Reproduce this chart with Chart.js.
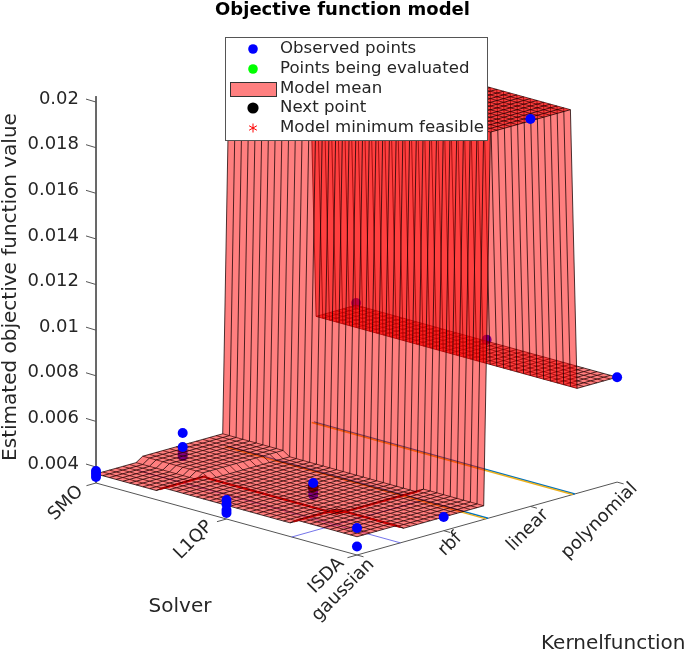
<!DOCTYPE html>
<html><head><meta charset="utf-8">
<style>html,body{margin:0;padding:0;background:#fff;overflow:hidden}canvas{display:block;filter:blur(0.5px)}</style>
<script src="https://cdn.jsdelivr.net/npm/chart.js@4/dist/chart.umd.js"></script>
</head><body><canvas id="c" width="685" height="654"></canvas>
<script>
const titleText = 'Objective function model';
const solverLabels = ['SMO', 'L1QP', 'ISDA'];
const kernelLabels = ['gaussian', 'rbf', 'linear', 'polynomial'];
const zTicks = [0.004, 0.006, 0.008, 0.01, 0.012, 0.014, 0.016, 0.018, 0.02];
const zTickLabels = ['0.004', '0.006', '0.008', '0.01', '0.012', '0.014', '0.016', '0.018', '0.02'];
const legendLabels = ['Observed points', 'Points being evaluated', 'Model mean', 'Next point', 'Model minimum feasible'];
// model mean per solver (rows) and kernel (columns)
const meanSMO  = [0.0037, 0.0039, 0.0202, 0.0079];
const meanL1QP = [0.0039, 0.0037, 0.0202, 0.0079];
const meanISDA = [0.0041, 0.0039, 0.0202, 0.0079];
// observed points hidden by the surface
const hiddenSolver = [0, 0, 1, 1, 0, 1];
const hiddenKernel = [1, 1, 1, 1, 3, 3];
const hiddenValue  = [0.00359, 0.00342, 0.00346, 0.00329, 0.00799, 0.00796];
// observed points in front of it
const obsSolver = [0, 0, 0, 0, 0, 1, 1, 1, 1, 1, 2, 2, 2, 2, 2];
const obsKernel = [0, 0, 0, 1, 1, 0, 0, 0, 0, 1, 0, 0, 1, 3, 2];
const obsValue  = [0.00383, 0.0037, 0.00356, 0.00443, 0.00381, 0.00413, 0.00395, 0.00369, 0.00356, 0.00381, 0.00448, 0.00367, 0.0039, 0.0079, 0.02028];
const nextSolver = [1], nextKernel = [1], nextValue = [0.00364];
const meshNodes = 40;

// view projection (solver index, kernel index, objective value) -> view coordinates
const proj = (u, v, z) => ({
  x: 96 + 130.5 * u + 86.7 * v,
  y: 483 + 36 * u - 24.3 * v - 22810 * (z - 0.0033)
});
const floorZ = 0.0033;
const table = [meanSMO, meanL1QP, meanISDA];
const U = i => i * 2 / (meshNodes - 1), V = j => j * 3 / (meshNodes - 1);
const H = (i, j) => table[Math.round(U(i))][Math.round(V(j))];
const GAP = {x: NaN, y: NaN};
const mid = (a, b) => ({x: (a.x + b.x) / 2, y: (a.y + b.y) / 2});

const datasets = [];
const line = (data, color, w) => datasets.push({data, showLine: true, borderColor: color, borderWidth: w, pointRadius: 0, fill: false, tension: 0});
const poly = (data) => datasets.push({data: data.concat([data[0]]), showLine: true, borderWidth: 0, borderColor: 'rgba(0,0,0,0)', backgroundColor: 'rgba(255,0,0,0.5)', pointRadius: 0, fill: 'shape', tension: 0});
const dots = (data, color, r) => datasets.push({data, showLine: false, backgroundColor: color, borderColor: color, pointRadius: r, borderWidth: 0});

// axes
line([proj(0, 0, 0.02026), proj(0, 0, floorZ)], '#555', 1);
line([proj(0, 0, floorZ), proj(2, 0, floorZ), proj(2, 3, floorZ)], '#555', 1);
zTicks.forEach(t => { const p = proj(0, 0, t); line([p, {x: p.x - 10, y: p.y - 3}], '#555', 1); });
solverLabels.forEach((s, i) => line([proj(i, 0, floorZ), proj(i, -0.11, floorZ)], '#555', 1));
kernelLabels.forEach((s, j) => line([proj(2, j, floorZ), proj(2.05, j, floorZ)], '#555', 1));

// contour lines on the floor
const contourBlue = 'rgba(70,70,225,0.75)';
line([proj(1.5, 0, floorZ), proj(1.5, 1.5, floorZ)], contourBlue, 1);
line([proj(0, 0.5, floorZ), proj(2, 0.5, floorZ)], contourBlue, 1);
[1.5, 2.5].forEach(v => {
  line([proj(0, v + 0.012, floorZ), proj(2, v + 0.012, floorZ)], '#0072BD', 1.4);
  line([proj(0, v - 0.012, floorZ), proj(2, v - 0.012, floorZ)], '#EDB120', 1.4);
});

// points under the surface
dots(hiddenSolver.map((s, i) => proj(s, hiddenKernel[i], hiddenValue[i])), '#0000FF', 5);
dots(nextSolver.map((s, i) => proj(s, nextKernel[i], nextValue[i])), '#000', 5.5);

// surface, far strips first
const edge = 'rgba(20,0,0,0.85)';
const foldRed = 'rgba(185,0,0,0.85)';
const small = 0.001;
for (let j = meshNodes - 2; j >= 0; j--) {
  let start = 0;
  const folds = [];
  for (let i = 0; i < meshNodes - 1; i++) {
    const same = H(i, j) === H(i + 1, j) && H(i, j + 1) === H(i + 1, j + 1);
    const nextSame = i + 1 < meshNodes - 1 && same && H(i + 1, j) === H(i + 2, j) && H(i + 1, j + 1) === H(i + 2, j + 1);
    if (!nextSame) {
      const p0 = proj(U(start), V(j), H(start, j)), p1 = proj(U(i + 1), V(j), H(i + 1, j)),
            p2 = proj(U(i + 1), V(j + 1), H(i + 1, j + 1)), p3 = proj(U(start), V(j + 1), H(start, j + 1));
      poly([p0, p1, p2, p3]);
      // a step that faces away from the viewer folds into a dark seam
      const du = H(i + 1, j) - H(start, j), dv = H(start, j) - H(start, j + 1);
      if (du > 0 && du < small && Math.abs(dv) < small) folds.push(mid(p0, p1), mid(p3, p2), GAP);
      else if (dv > 0 && dv < small) folds.push(mid(p0, p3), mid(p1, p2), GAP);
      start = i + 1;
    }
  }
  const mesh = [];
  for (let i = 0; i < meshNodes; i++) mesh.push(proj(U(i), V(j), H(i, j)));
  mesh.push(GAP);
  if (j === meshNodes - 2) {
    for (let i = 0; i < meshNodes; i++) mesh.push(proj(U(i), V(j + 1), H(i, j + 1)));
    mesh.push(GAP);
  }
  for (let i = 0; i < meshNodes; i++) {
    mesh.push(proj(U(i), V(j), H(i, j)), proj(U(i), V(j + 1), H(i, j + 1)), GAP);
  }
  line(mesh, edge, 0.9);
  if (folds.length) line(folds, foldRed, 2.2);
}

// points above the surface
dots(obsSolver.map((s, i) => proj(s, obsKernel[i], obsValue[i])), '#0000FF', 5);
// Chart.js paints the first dataset last, so hand them over back to front
datasets.reverse();

const textColor = '#262626';
const overlay = {
  id: 'overlay',
  afterDatasetsDraw(chart) {
    const c = chart.ctx, sx = chart.scales.x, sy = chart.scales.y;
    const px = p => ({x: sx.getPixelForValue(p.x), y: sy.getPixelForValue(p.y)});
    const text = (s, p, rot, align, size) => {
      c.save(); c.translate(p.x, p.y); c.rotate(rot); c.textAlign = align; c.textBaseline = 'middle';
      c.font = (size || 18) + 'px "DejaVu Sans"'; c.fillStyle = textColor; c.fillText(s, 0, 0); c.restore();
    };
    zTicks.forEach((t, i) => { const p = px(proj(0, 0, t)); text(zTickLabels[i], {x: 79, y: p.y - 3}, 0, 'right'); });
    const r45 = -Math.PI / 4;
    const solverNudge = [[-2, -7], [-3, -8], [-2, -7]];
    const kernelNudge = [[12, -7], [13, -9], [13, -8], [15, -10]];
    solverLabels.forEach((s, i) => { const p = px(proj(i, -0.11, floorZ)); text(s, {x: p.x - 4 + solverNudge[i][0], y: p.y + 10 + solverNudge[i][1]}, r45, 'right'); });
    kernelLabels.forEach((s, j) => { const p = px(proj(2.05, j, floorZ)); text(s, {x: p.x - 4 + kernelNudge[j][0], y: p.y + 12 + kernelNudge[j][1]}, r45, 'right'); });
    text('Estimated objective function value', {x: 11, y: 287}, -Math.PI / 2, 'center', 20);
    text('Solver', {x: 180, y: 607}, 0, 'center', 20);
    text('Kernelfunction', {x: 541, y: 644}, 0, 'left', 20);
    // legend
    c.save();
    c.fillStyle = '#fff'; c.strokeStyle = '#555'; c.lineWidth = 1;
    c.fillRect(225.5, 37.5, 262, 103); c.strokeRect(225.5, 37.5, 262, 103);
    const ys = [49, 69, 89, 108, 128];
    legendLabels.forEach((s, i) => text(s, {x: 280, y: ys[i]}, 0, 'left', 16.6));
    const disc = (y, col, r) => { c.beginPath(); c.arc(253, y, r, 0, 7); c.fillStyle = col; c.fill(); };
    disc(ys[0], '#0000FF', 4.8); disc(ys[1], '#00FF00', 4.8);
    c.fillStyle = '#FF8080'; c.strokeStyle = '#333'; c.fillRect(230.5, 82.5, 46, 14); c.strokeRect(230.5, 82.5, 46, 14);
    disc(ys[3], '#000', 5.6);
    c.restore();
    c.save(); c.strokeStyle = '#FF0000'; c.lineWidth = 1;
    c.beginPath();
    for (let a = 0; a < 3; a++) { const t = Math.PI / 2 + a * Math.PI / 3, dx = 4.5 * Math.cos(t), dy = 4.5 * Math.sin(t);
      c.moveTo(253 - dx, ys[4] - dy); c.lineTo(253 + dx, ys[4] + dy); }
    c.stroke(); c.restore();
  }
};

const titleSize = 18;
new Chart(document.getElementById('c'), {
  type: 'scatter',
  data: {datasets},
  plugins: [overlay],
  options: {
    responsive: false, animation: false, events: [],
    layout: {padding: 0, autoPadding: false},
    plugins: {
      legend: {display: false}, tooltip: {enabled: false},
      title: {display: true, text: titleText, color: '#000', padding: 0,
              font: {family: '"DejaVu Sans"', size: titleSize, weight: 'bold', lineHeight: 1.2}}
    },
    scales: {
      x: {type: 'linear', display: false, min: 0, max: 685},
      y: {type: 'linear', display: false, reverse: true, min: titleSize * 1.2, max: 654}
    }
  }
});
</script></body></html>
